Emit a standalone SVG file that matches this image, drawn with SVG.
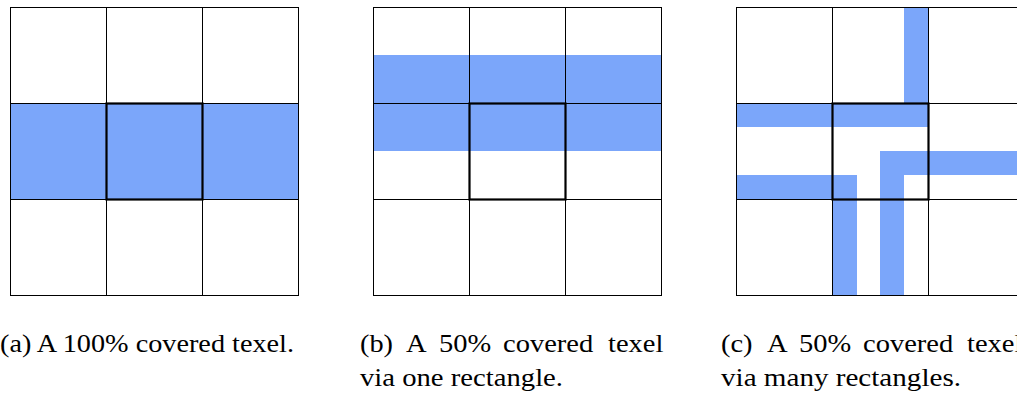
<svg xmlns="http://www.w3.org/2000/svg" width="1017" height="397" viewBox="0 0 1017 397">
<style>
.cov{fill:#7ba6fa;stroke:none}
.grid{fill:none;stroke:#000;stroke-width:1}
.texel{fill:none;stroke:#000;stroke-width:2.2}
text{font-family:'Liberation Serif',serif;font-size:25px;fill:#000}
</style>
<rect width="1017" height="397" fill="#fff"/>
<g id="panel-a">
<rect class="cov" x="10" y="103" width="288" height="96"/>
<path class="grid" d="M10,7.5H298M10,103.5H298M10,199.5H298M10,295.5H298M10.5,7V296M106.5,7V296M202.5,7V296M298.5,7V296"/>
<rect class="texel" x="106.5" y="103.5" width="96" height="96"/>
</g>
<g id="panel-b">
<rect class="cov" x="373" y="55" width="288" height="96"/>
<path class="grid" d="M373,7.5H661M373,103.5H661M373,199.5H661M373,295.5H661M373.5,7V296M469.5,7V296M565.5,7V296M661.5,7V296"/>
<rect class="texel" x="469.5" y="103.5" width="96" height="96"/>
</g>
<g id="panel-c">
<rect class="cov" x="904" y="7" width="24" height="96"/>
<rect class="cov" x="736" y="103" width="192" height="24"/>
<rect class="cov" x="736" y="175" width="121" height="24"/>
<rect class="cov" x="832" y="175" width="25" height="120"/>
<rect class="cov" x="880" y="151" width="140" height="24"/>
<rect class="cov" x="880" y="151" width="24" height="144"/>
<path class="grid" d="M736,7.5H1024M736,103.5H1024M736,199.5H1024M736,295.5H1024M736.5,7V296M832.5,7V296M928.5,7V296"/>
<rect class="texel" x="832.5" y="103.5" width="96" height="96"/>
</g>
<g id="captions">
<text font-family="Liberation Serif, serif" x="0" y="352" textLength="294" lengthAdjust="spacingAndGlyphs">(a) A 100% covered texel.</text>
<text font-family="Liberation Serif, serif" x="360" y="352" textLength="33" lengthAdjust="spacingAndGlyphs">(b)</text>
<text font-family="Liberation Serif, serif" x="406" y="352" textLength="20.6" lengthAdjust="spacingAndGlyphs">A</text>
<text font-family="Liberation Serif, serif" x="439" y="352" textLength="52.2" lengthAdjust="spacingAndGlyphs">50%</text>
<text font-family="Liberation Serif, serif" x="503" y="352" textLength="90.2" lengthAdjust="spacingAndGlyphs">covered</text>
<text font-family="Liberation Serif, serif" x="608" y="352" textLength="55.4" lengthAdjust="spacingAndGlyphs">texel</text>
<text font-family="Liberation Serif, serif" x="360" y="386" textLength="203" lengthAdjust="spacingAndGlyphs">via one rectangle.</text>
<text font-family="Liberation Serif, serif" x="721" y="352" textLength="31.6" lengthAdjust="spacingAndGlyphs">(c)</text>
<text font-family="Liberation Serif, serif" x="767" y="352" textLength="20.6" lengthAdjust="spacingAndGlyphs">A</text>
<text font-family="Liberation Serif, serif" x="799" y="352" textLength="52.2" lengthAdjust="spacingAndGlyphs">50%</text>
<text font-family="Liberation Serif, serif" x="863" y="352" textLength="90.2" lengthAdjust="spacingAndGlyphs">covered</text>
<text font-family="Liberation Serif, serif" x="967" y="352" textLength="55.4" lengthAdjust="spacingAndGlyphs">texel</text>
<text font-family="Liberation Serif, serif" x="721" y="386" textLength="240" lengthAdjust="spacingAndGlyphs">via many rectangles.</text>
</g>
</svg>
